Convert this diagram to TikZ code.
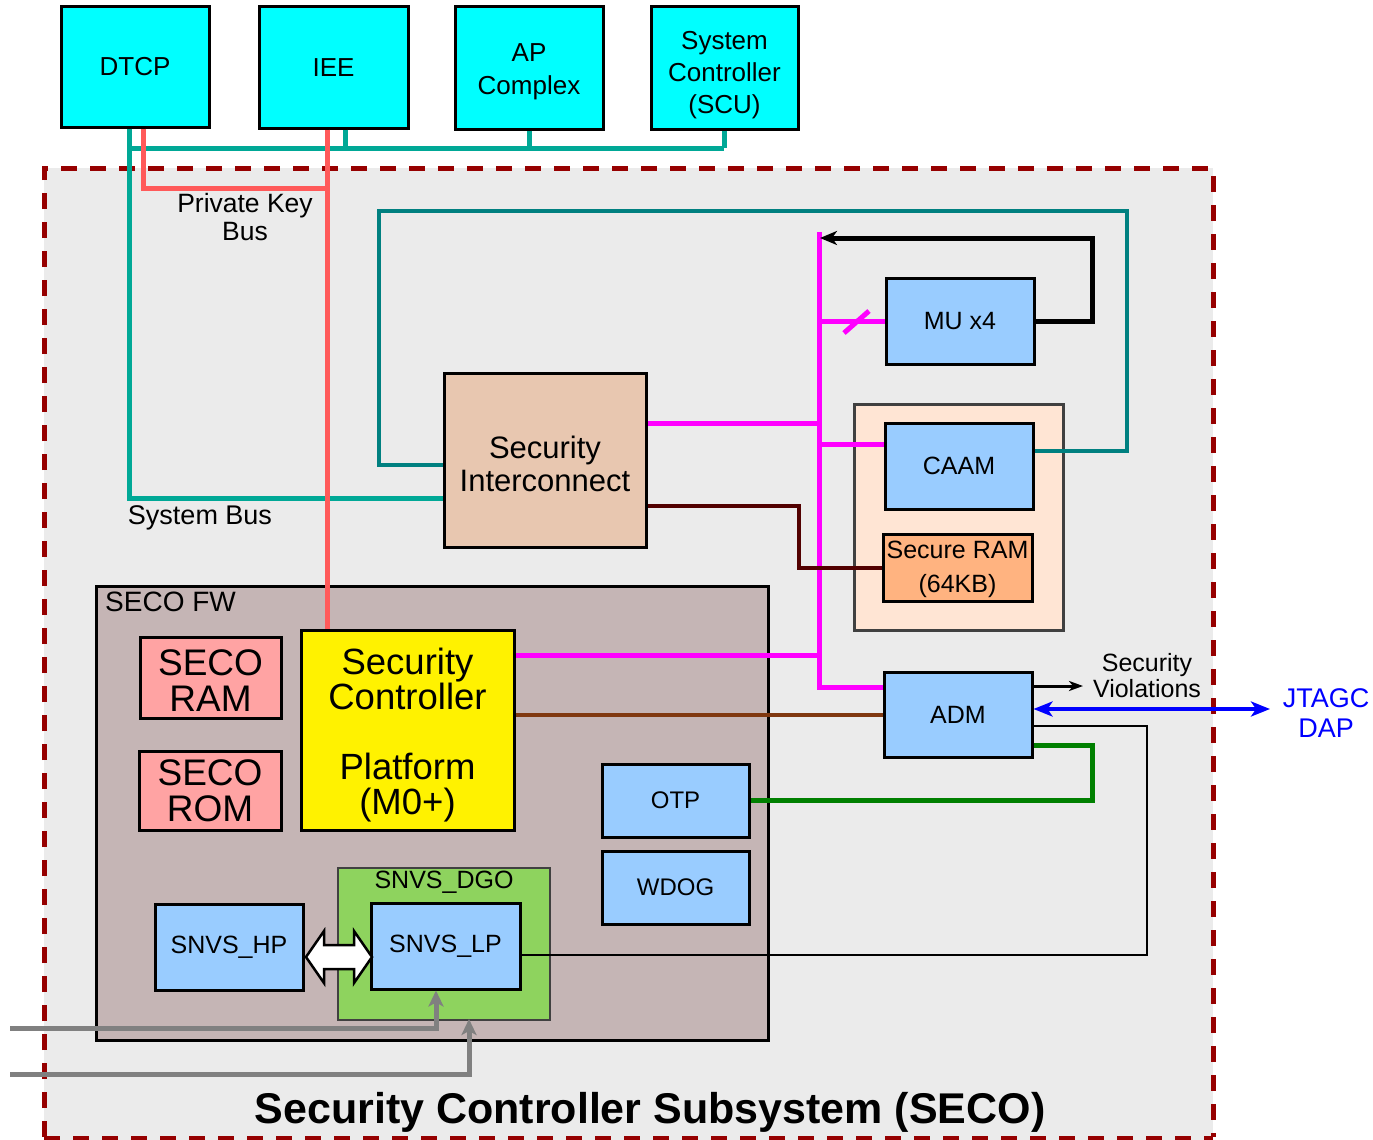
\documentclass[tikz,border=0pt]{standalone}
\usepackage{fontspec}
\setmainfont{Liberation Sans}
\usetikzlibrary{arrows.meta,calc}

\definecolor{bggray}{RGB}{235,235,235}
\definecolor{borderred}{RGB}{150,0,0}
\definecolor{cyanbox}{RGB}{0,255,255}
\definecolor{sysbus}{RGB}{0,168,150}
\definecolor{darkteal}{RGB}{0,128,128}
\definecolor{keyred}{RGB}{255,90,90}
\definecolor{tanbox}{RGB}{232,199,176}
\definecolor{bluebox}{RGB}{153,204,255}
\definecolor{peach}{RGB}{255,229,212}
\definecolor{orangebox}{RGB}{255,179,128}
\definecolor{fwgray}{RGB}{197,181,181}
\definecolor{pinkbox}{RGB}{255,163,163}
\definecolor{dgogreen}{RGB}{142,211,94}
\definecolor{magentabus}{RGB}{255,0,255}
\definecolor{brownbus}{RGB}{128,56,16}
\definecolor{darkbrown}{RGB}{82,0,0}
\definecolor{greenbus}{RGB}{0,128,0}
\definecolor{greyarrow}{RGB}{128,128,128}
\definecolor{groupedge}{RGB}{64,64,64}

\tikzset{
  blk/.style={draw=black, line width=3pt, inner sep=0pt, align=center},
  f25/.style={font=\fontsize{25}{30}\selectfont},
  f26/.style={font=\fontsize{26}{32}\selectfont},
  topbox/.style={blk, fill=cyanbox, f26},
  unitbox/.style={blk, fill=bluebox, f25},
  lbl/.style={inner sep=0pt, align=center},
  sysline/.style={draw=sysbus, line width=5pt},
  keyline/.style={draw=keyred, line width=5pt},
  tealline/.style={draw=darkteal, line width=4pt},
  magline/.style={draw=magentabus, line width=5pt},
}

\begin{document}
\begin{tikzpicture}[x=1pt,y=-1pt]
\useasboundingbox (0,0) rectangle (1373,1140);

% subsystem area
\fill[bggray] (44,168) rectangle (1213,1140);
\draw[borderred, line width=5pt, dash pattern=on 16pt off 13pt] (44,1137) -- (44,168) -- (1213,168) -- (1213,1137);
\draw[borderred, line width=4pt, dash pattern=on 16pt off 13pt] (44,1138) -- (1213,1138);

% firmware area and groups
\node[blk, fill=fwgray, minimum width=672, minimum height=454] (fw) at (432,813) {};
\node[lbl, anchor=west, font=\fontsize{28}{32}\selectfont] (fwlbl) at (105,602) {SECO FW};
\node[draw=groupedge, line width=3pt, fill=peach, minimum width=209, minimum height=226, inner sep=0pt] (grp) at (958.5,517) {};
\node[draw=groupedge, line width=2pt, fill=dgogreen, minimum width=212, minimum height=152, inner sep=0pt] (dgo) at (444,944) {};
\node[lbl, font=\fontsize{25}{28}\selectfont] (dgolbl) at (444,882) {SNVS\_DGO};

% external blocks
\node[topbox, minimum width=148, minimum height=120] (dtcp) at (135,67) {DTCP};
\node[topbox, minimum width=149, minimum height=121] (iee) at (333.5,67.5) {IEE};
\node[topbox, minimum width=148, minimum height=122] (ap) at (529,68) {\rule{0pt}{26pt}AP\\[1pt]Complex};
\node[topbox, minimum width=147, minimum height=122] (scu) at (724.5,68) {\rule{0pt}{32pt}System\\Controller\\(SCU)};

% internal blocks
\node[blk, fill=tanbox, minimum width=202, minimum height=174, font=\fontsize{31}{33}\selectfont] (si) at (545,460) {\rule{0pt}{30pt}Security\\Interconnect};
\node[unitbox, minimum width=148, minimum height=86] (mu) at (960,321) {MU x4};
\node[unitbox, minimum width=148, minimum height=86] (caam) at (959,466) {CAAM};
\node[blk, fill=orangebox, minimum width=149, minimum height=67, font=\fontsize{25}{34}\selectfont] (sram) at (957.5,567.5) {\rule{0pt}{22pt}Secure RAM\\(64KB)};
\node[unitbox, minimum width=148, minimum height=85] (adm) at (958,714.5) {ADM};
\node[blk, fill=pinkbox, minimum width=141, minimum height=81, font=\fontsize{37}{36}\selectfont] (sram2) at (210.5,677.5) {\rule{0pt}{32pt}SECO\\RAM};
\node[blk, fill=pinkbox, minimum width=142, minimum height=79, font=\fontsize{37}{36}\selectfont] (srom) at (210,790.5) {SECO\\ROM};
\node[blk, fill=yellow, minimum width=213, minimum height=200, font=\fontsize{36.5}{35}\selectfont] (sc) at (407.5,730) {\rule{0pt}{37pt}Security\\Controller\\[35pt]Platform\\(M0+)};
\node[blk, fill=bluebox, minimum width=147, minimum height=73, font=\fontsize{24}{28}\selectfont] (otp) at (675.5,800.5) {OTP};
\node[blk, fill=bluebox, minimum width=147, minimum height=73, font=\fontsize{24}{28}\selectfont] (wdog) at (675.5,887.5) {WDOG};
\node[unitbox, minimum width=148, minimum height=86] (hp) at (229,947) {SNVS\_HP};
\node[unitbox, minimum width=149, minimum height=86] (lp) at (445.5,946) {SNVS\_LP};

% bus corner points
\coordinate (busL) at (129,148);
\coordinate (busR) at (724,148);
\coordinate (sbend) at (129,498);
\coordinate (pkc) at (327,188);
\coordinate (ct1) at (379,211);
\coordinate (ct2) at (1127,211);
\coordinate (mtop) at (819,232);
\coordinate (mbot) at (819,687);
\coordinate (mur) at (1092,238);
\coordinate (db) at (799,568);
\coordinate (sv) at (1083,686);
\coordinate (jt) at (1270,709);
\coordinate (gr) at (1092,800);
\coordinate (bk) at (1147,955);
\coordinate (g1) at (10,1028);
\coordinate (g2) at (10,1074);

% system bus
\draw[sysline] (busL) -- (busR);
\draw[sysline] ([xshift=-6pt]dtcp.south) -- (sbend) -- (si.west |- sbend);
\draw[sysline] ([xshift=11.5pt]iee.south) -- ([xshift=11.5pt]iee.south |- busL);
\draw[sysline] (ap.south) -- (ap.south |- busL);
\draw[sysline] (scu.south) -- (scu.south |- busR);
\node[lbl, font=\fontsize{27}{30}\selectfont] (sblbl) at (200,518) {System Bus};

% private key bus
\draw[keyline] ([xshift=8pt]dtcp.south) |- (pkc);
\draw[keyline] ([xshift=-6.5pt]iee.south) -- ([xshift=-6.5pt]iee.south |- sc.north);
\node[lbl, font=\fontsize{26.5}{28}\selectfont] (pklbl) at (245,217) {Private Key\\Bus};

% interconnect to CAAM
\draw[tealline] ([yshift=-5pt]si.west) -| (ct1) -- (ct2) |- ([yshift=15pt]caam.east);

% peripheral bus
\draw[magline] (mtop) -- (mbot) -- (adm.west |- mbot);
\draw[magline] ([yshift=37pt]si.east) -| (mtop);
\draw[magline] (mu.west) -- (mu.west -| mtop);
\draw[magline] (844,333) -- (869,311);
\draw[magline] ([yshift=22pt]caam.west) -| (mtop);
\draw[magline] ([yshift=75pt]sc.east) -| (mtop);

% MU feedback
\draw[line width=5pt, -{Stealth[length=17pt, width=14pt, inset=5pt]}] (mu.east) -| (mur) -- ($(mur -| mtop)+(1,0)$);

% secure RAM access
\draw[darkbrown, line width=4pt] ([yshift=-46pt]si.east) -| (db) -- (sram.west |- db);

% ADM connections
\draw[line width=3pt, -{Stealth[length=14pt, width=10pt, inset=4pt]}] (adm.east |- sv) -- (sv);
\node[lbl, font=\fontsize{25}{26}\selectfont] (svlbl) at (1147,676) {Security\\Violations};
\draw[blue, line width=4pt, {Stealth[length=19pt, width=15pt, inset=5pt]}-{Stealth[length=19pt, width=15pt, inset=5pt]}] (adm.east |- jt) -- (jt);
\node[lbl, blue, font=\fontsize{27}{30}\selectfont] (jtlbl) at (1326,713) {JTAGC\\DAP};
\draw[brownbus, line width=4pt] (sc.east |- adm.west) -- (adm.west);
\draw[greenbus, line width=5pt] ([yshift=-30.5pt]adm.east) -| (gr) -- (otp.east |- gr);
\draw[line width=2pt] ([yshift=-11.5pt]adm.east) -| (bk) -- (lp.east |- bk);

% SNVS HP/LP link
\draw[line width=2.5pt, fill=white, line join=miter] ([yshift=-10pt]hp.east) ++(1.5,0) -- ++(18,-26) -- ++(0,14) -- ++(30,0) -- ++(0,-14) -- ++(18,26) -- ++(-18,26) -- ++(0,-14) -- ++(-30,0) -- ++(0,14) -- cycle;

% external inputs
\draw[greyarrow, line width=5pt, -{Stealth[length=16pt, width=15pt, inset=4pt]}] (g1) -| ([xshift=-9.5pt]lp.south);
\draw[greyarrow, line width=5pt, -{Stealth[length=16pt, width=15pt, inset=4pt]}] (g2) -| ([xshift=25pt,yshift=2pt]dgo.south);

% title
\node[lbl, font=\bfseries\fontsize{43}{48}\selectfont] (title) at (650,1112) {Security Controller Subsystem (SECO)};
\end{tikzpicture}
\end{document}
